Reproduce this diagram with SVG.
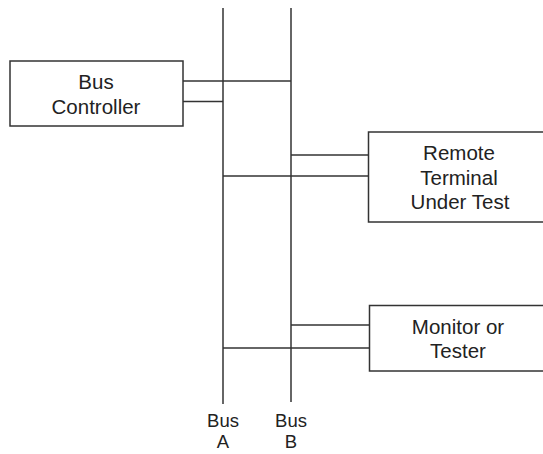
<svg xmlns="http://www.w3.org/2000/svg" width="543" height="454" viewBox="0 0 543 454">
<style>
.box{fill:#fff;stroke:#333;stroke-width:1.5}
.ln{stroke:#333;stroke-width:1.5;fill:none}
text{font-family:"Liberation Sans",Arial,sans-serif;font-size:20.5px;fill:#222;text-anchor:middle}
.bl{font-size:18.5px}
</style>
<rect width="543" height="454" fill="#fff"/>
<g id="connectors">
<line class="ln" x1="223" y1="8" x2="223" y2="404"/>
<line class="ln" x1="291" y1="8" x2="291" y2="402"/>
<line class="ln" x1="183" y1="81" x2="291" y2="81"/>
<line class="ln" x1="183" y1="101.5" x2="223" y2="101.5"/>
<line class="ln" x1="291" y1="155" x2="368" y2="155"/>
<line class="ln" x1="223" y1="176" x2="368" y2="176"/>
<line class="ln" x1="291" y1="325" x2="369" y2="325"/>
<line class="ln" x1="223" y1="348" x2="369" y2="348"/>
</g>
<g id="bus-controller">
<rect class="box" x="10" y="61" width="173" height="65"/>
<text x="96" y="89">Bus</text>
<text x="96" y="113.5">Controller</text>
</g>
<g id="remote-terminal">
<rect class="box" x="368.5" y="132" width="180" height="90"/>
<text x="459" y="160">Remote</text>
<text x="459" y="185">Terminal</text>
<text x="460" y="209">Under Test</text>
</g>
<g id="monitor">
<rect class="box" x="369.5" y="305.5" width="180" height="65.5"/>
<text x="458" y="334">Monitor or</text>
<text x="458" y="358">Tester</text>
</g>
<g id="bus-a">
<text class="bl" x="223" y="426.5">Bus</text>
<text class="bl" x="223" y="448">A</text>
</g>
<g id="bus-b">
<text class="bl" x="291" y="426.5">Bus</text>
<text class="bl" x="291" y="448">B</text>
</g>
</svg>
